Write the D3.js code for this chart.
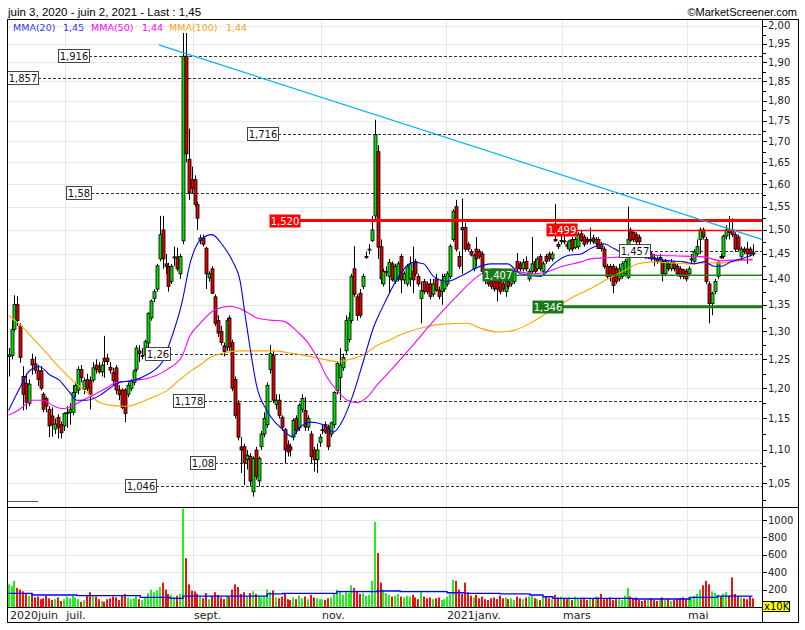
<!DOCTYPE html>
<html><head><meta charset="utf-8">
<script src="https://cdn.jsdelivr.net/npm/d3@7"></script>
<style>body{margin:0;background:#fff}svg{display:block}</style>
</head><body>
<svg id="c" width="805" height="630"></svg>
<script>
// ---------------- DATA ----------------
const opens=[1.255,1.257,1.304,1.35,1.31,1.22,1.208,1.175,1.25,1.242,1.23,1.23,1.19,1.183,1.165,1.154,1.133,1.152,1.14,1.138,
1.158,1.16,1.16,1.193,1.197,1.232,1.198,1.215,1.213,1.214,1.24,1.238,1.228,1.252,1.252,1.236,1.227,1.235,1.197,1.197,1.197,1.19,1.20,
1.21,1.232,1.265,1.257,1.258,1.279,1.325,1.362,1.38,1.44,1.50,1.43,1.425,1.395,1.442,1.444,1.41,1.477,1.916,1.657,1.61,
1.61,1.555,1.478,1.483,1.462,1.402,1.42,1.365,1.32,1.30,1.274,1.272,1.325,1.28,1.215,1.175,1.105,1.105,1.085,1.09,1.037,1.10,
1.053,1.105,1.125,1.14,1.232,1.257,1.173,1.18,1.152,1.132,1.108,1.105,1.12,1.15,1.135,1.165,1.163,1.136,1.125,1.10,1.085,1.112,
1.132,1.14,1.136,1.125,1.14,1.196,1.218,1.235,1.265,1.285,1.32,1.42,1.365,1.372,1.385,1.443,1.458,1.478,1.53,1.675,1.465,
1.39,1.413,1.405,1.43,1.395,1.40,1.445,1.398,1.39,1.40,1.415,1.435,1.405,1.362,1.395,1.39,1.39,1.37,1.40,1.378,1.375,1.38,
1.39,1.405,1.48,1.55,1.445,1.505,1.505,1.47,1.455,1.42,1.46,1.455,1.45,1.41,1.40,1.395,1.395,1.395,1.395,1.39,
1.375,1.395,1.39,1.395,1.435,1.43,1.42,1.435,1.40,1.415,1.435,1.42,1.445,1.415,1.445,1.45,1.44,1.48,1.47,1.478,
1.477,1.47,1.46,1.48,1.463,1.465,1.492,1.485,1.48,1.48,1.483,1.472,1.48,1.47,1.46,1.425,1.425,1.425,1.42,1.40,1.405,1.41,1.403,
1.50,1.495,1.49,1.485,1.45,1.448,1.443,1.45,1.442,1.44,1.443,1.435,1.41,1.43,1.42,1.43,1.425,1.42,1.418,1.415,
1.41,1.44,1.435,1.45,1.48,1.50,1.48,1.39,1.352,1.375,1.405,1.445,1.445,1.487,1.50,1.50,1.49,1.485,1.445,1.46,1.46,
1.46,1.452];
const highs=[1.27,1.32,1.368,1.366,1.315,1.238,1.225,1.215,1.26,1.255,1.24,1.238,1.193,1.186,1.17,1.168,1.15,1.157,1.145,1.16,
1.17,1.175,1.205,1.21,1.238,1.24,1.218,1.225,1.22,1.245,1.25,1.245,1.245,1.292,1.26,1.245,1.235,1.24,1.205,1.20,1.20,1.21,1.215,
1.232,1.275,1.275,1.27,1.285,1.335,1.36,1.38,1.43,1.53,1.53,1.45,1.432,1.43,1.465,1.463,1.45,1.98,1.98,1.73,1.64,
1.62,1.56,1.49,1.49,1.465,1.415,1.425,1.37,1.33,1.31,1.28,1.325,1.33,1.285,1.22,1.18,1.12,1.11,1.10,1.095,1.09,1.105,
1.09,1.13,1.16,1.21,1.275,1.265,1.19,1.19,1.155,1.135,1.115,1.11,1.15,1.155,1.175,1.19,1.185,1.155,1.13,1.105,1.11,1.125,
1.14,1.145,1.14,1.145,1.195,1.245,1.27,1.26,1.33,1.335,1.41,1.466,1.37,1.38,1.41,1.455,1.47,1.53,1.752,1.69,1.48,
1.42,1.425,1.44,1.435,1.43,1.435,1.45,1.415,1.43,1.445,1.465,1.44,1.41,1.395,1.40,1.395,1.40,1.40,1.41,1.385,1.41,1.41,
1.415,1.47,1.545,1.565,1.455,1.568,1.515,1.475,1.46,1.45,1.485,1.46,1.455,1.415,1.405,1.40,1.40,1.40,1.40,1.395,
1.40,1.40,1.415,1.42,1.452,1.435,1.44,1.445,1.42,1.485,1.44,1.445,1.45,1.435,1.45,1.455,1.455,1.556,1.475,1.49,
1.49,1.475,1.48,1.485,1.485,1.495,1.50,1.49,1.485,1.505,1.49,1.485,1.485,1.475,1.465,1.43,1.43,1.43,1.425,1.43,1.435,1.44,1.55,
1.505,1.50,1.495,1.49,1.455,1.455,1.452,1.455,1.45,1.445,1.45,1.44,1.44,1.435,1.44,1.435,1.43,1.425,1.42,1.42,
1.425,1.45,1.46,1.48,1.505,1.505,1.485,1.395,1.375,1.40,1.435,1.45,1.49,1.51,1.53,1.525,1.495,1.49,1.465,1.465,1.475,
1.465,1.47];
const lows=[1.22,1.25,1.30,1.31,1.244,1.163,1.165,1.17,1.223,1.225,1.204,1.196,1.16,1.16,1.12,1.121,1.125,1.118,1.118,1.13,
1.135,1.14,1.155,1.185,1.19,1.21,1.19,1.195,1.165,1.21,1.225,1.225,1.22,1.218,1.24,1.225,1.205,1.19,1.18,1.165,1.144,1.185,1.195,
1.205,1.228,1.245,1.25,1.25,1.27,1.32,1.355,1.375,1.435,1.42,1.41,1.375,1.39,1.425,1.415,1.40,1.47,1.65,1.565,1.58,
1.55,1.50,1.47,1.465,1.38,1.395,1.37,1.31,1.29,1.275,1.255,1.265,1.265,1.195,1.15,1.115,1.065,1.047,1.07,1.045,1.03,1.055,
1.045,1.10,1.12,1.135,1.225,1.175,1.165,1.15,1.13,1.08,1.09,1.09,1.115,1.125,1.13,1.16,1.13,1.13,1.08,1.067,1.065,1.105,
1.125,1.125,1.10,1.12,1.135,1.19,1.18,1.23,1.26,1.28,1.315,1.365,1.32,1.325,1.38,1.44,1.45,1.475,1.52,1.44,1.39,
1.385,1.405,1.372,1.395,1.39,1.395,1.372,1.39,1.385,1.385,1.372,1.405,1.385,1.315,1.37,1.37,1.36,1.365,1.375,1.36,1.35,1.375,
1.385,1.40,1.475,1.455,1.42,1.41,1.455,1.455,1.445,1.415,1.425,1.44,1.41,1.39,1.385,1.38,1.375,1.356,1.37,1.375,
1.365,1.38,1.385,1.39,1.415,1.415,1.415,1.415,1.395,1.41,1.41,1.415,1.415,1.41,1.43,1.435,1.435,1.475,1.46,1.47,
1.47,1.46,1.455,1.455,1.46,1.46,1.475,1.465,1.47,1.47,1.47,1.465,1.46,1.455,1.42,1.40,1.395,1.372,1.39,1.395,1.40,1.405,1.40,
1.475,1.475,1.47,1.47,1.445,1.44,1.44,1.435,1.425,1.43,1.435,1.395,1.405,1.415,1.415,1.415,1.405,1.40,1.40,1.395,
1.405,1.43,1.43,1.445,1.45,1.48,1.39,1.315,1.33,1.37,1.40,1.44,1.44,1.48,1.48,1.485,1.455,1.455,1.44,1.45,1.43,
1.445,1.445];
const closes=[1.258,1.304,1.35,1.32,1.253,1.19,1.176,1.207,1.24,1.231,1.215,1.20,1.165,1.17,1.138,1.14,1.141,1.136,1.127,1.158,
1.16,1.165,1.193,1.205,1.232,1.218,1.213,1.20,1.19,1.235,1.232,1.228,1.24,1.246,1.246,1.231,1.213,1.197,1.189,1.168,1.158,1.205,1.212,
1.23,1.27,1.26,1.257,1.282,1.334,1.357,1.375,1.426,1.49,1.44,1.425,1.385,1.425,1.444,1.42,1.445,1.916,1.67,1.58,1.59,
1.555,1.525,1.483,1.47,1.41,1.41,1.372,1.315,1.297,1.28,1.264,1.32,1.272,1.20,1.155,1.12,1.10,1.08,1.092,1.053,1.087,1.06,
1.087,1.125,1.15,1.205,1.26,1.18,1.18,1.155,1.136,1.10,1.097,1.10,1.147,1.13,1.172,1.183,1.136,1.15,1.09,1.085,1.10,1.12,
1.132,1.128,1.105,1.143,1.193,1.243,1.24,1.253,1.32,1.325,1.405,1.37,1.33,1.33,1.405,1.445,1.46,1.50,1.716,1.464,1.40,
1.415,1.415,1.433,1.398,1.425,1.43,1.398,1.41,1.425,1.43,1.398,1.41,1.39,1.377,1.375,1.375,1.366,1.39,1.378,1.366,1.398,1.405,
1.41,1.466,1.54,1.46,1.425,1.50,1.46,1.46,1.448,1.447,1.44,1.445,1.415,1.40,1.39,1.385,1.38,1.38,1.375,1.38,
1.395,1.385,1.41,1.415,1.42,1.42,1.433,1.42,1.415,1.43,1.415,1.44,1.42,1.43,1.435,1.44,1.45,1.477,1.465,1.478,
1.475,1.465,1.477,1.46,1.48,1.49,1.478,1.47,1.475,1.48,1.475,1.48,1.461,1.461,1.425,1.405,1.405,1.387,1.395,1.42,1.43,1.435,1.48,
1.478,1.48,1.475,1.475,1.448,1.443,1.448,1.44,1.44,1.435,1.443,1.41,1.435,1.42,1.433,1.42,1.41,1.405,1.405,1.40,
1.42,1.44,1.455,1.465,1.50,1.485,1.395,1.352,1.372,1.395,1.433,1.442,1.487,1.50,1.495,1.49,1.46,1.46,1.46,1.455,1.45,
1.45,1.45];
const volumes=[260,240,300,220,200,180,150,130,160,110,120,90,100,130,100,80,90,110,70,90,
120,100,130,110,90,60,80,130,170,140,120,90,70,60,90,100,120,110,80,130,150,110,90,
100,130,90,80,110,160,200,170,190,230,280,200,150,140,120,130,150,1130,560,260,190,
180,150,120,100,160,90,130,170,140,110,90,130,120,200,260,230,150,170,120,160,180,150,
130,110,120,200,170,190,110,100,120,160,90,80,110,90,130,100,120,90,140,110,100,90,
90,80,100,110,150,200,180,140,170,160,250,220,180,150,160,130,140,300,980,620,280,
200,160,140,120,130,150,120,110,130,120,140,110,90,170,120,100,110,90,100,110,80,90,
120,150,310,300,200,150,280,170,130,110,140,100,120,90,80,100,110,90,130,100,
110,90,100,80,120,100,90,110,120,130,100,90,80,110,120,100,90,140,110,120,
100,90,110,80,120,100,90,110,80,90,100,120,110,150,90,100,110,80,90,100,80,130,220,
120,90,110,80,70,80,90,100,80,70,90,110,80,90,70,80,90,100,110,90,
120,100,130,150,200,250,300,260,180,160,140,120,150,170,130,340,150,120,110,100,90,
120,100];
// moving averages: [trading-day index, value]
const ma20=[[0,1.163],[3.8,1.20],[7.2,1.23],[10.7,1.237],[14.1,1.223],[17.6,1.213],[21,1.193],[23.4,1.18],[26.9,1.18],[31.4,1.188],[34.8,1.20],[38.3,1.21],[42.8,1.213],[47.6,1.223],[53.1,1.247],[55.5,1.28],[59.7,1.355],[62.4,1.43],[65.9,1.478],[69.9,1.49],[73.9,1.466],[77.2,1.434],[79.7,1.395],[81.4,1.33],[83.1,1.27],[85.4,1.203],[88.9,1.163],[94.6,1.131],[97.5,1.121],[100.3,1.136],[103.8,1.144],[108.3,1.14],[111.7,1.128],[115.2,1.149],[118.6,1.19],[122.1,1.247],[125.5,1.306],[128.5,1.343],[131.4,1.376],[134.8,1.41],[139.3,1.433],[142.8,1.43],[146.2,1.405],[151,1.395],[155.5,1.405],[161.4,1.423],[165.9,1.43],[171.7,1.43],[176.2,1.41],[183.1,1.405],[187.6,1.43],[192.4,1.447],[196.9,1.45],[200.3,1.461],[204.8,1.471],[208.3,1.461],[213.1,1.447],[217.6,1.444],[222.1,1.44],[227.9,1.436],[232.4,1.434],[235.9,1.43],[239.3,1.434],[242.8,1.425],[245.2,1.425],[248.6,1.434],[252.1,1.44],[256,1.448]];
const ma50=[[0,1.155],[3.8,1.165],[8.3,1.18],[11.7,1.18],[15.2,1.171],[18.6,1.166],[22.1,1.171],[25.5,1.18],[29,1.188],[33.8,1.201],[37.2,1.21],[42.8,1.213],[48.6,1.218],[54.5,1.232],[59.7,1.256],[62.4,1.292],[65.9,1.315],[70.9,1.34],[76.2,1.347],[80.7,1.34],[85.5,1.325],[90,1.321],[94.5,1.319],[99.3,1.30],[102.8,1.281],[106.2,1.253],[109.7,1.218],[113.1,1.196],[116.6,1.18],[120,1.176],[123.4,1.185],[126.9,1.206],[131.4,1.23],[138.3,1.27],[146.2,1.319],[154.5,1.368],[161.4,1.405],[166.9,1.42],[173.8,1.416],[180.7,1.41],[185.5,1.414],[190,1.424],[196.9,1.434],[200.3,1.44],[204.8,1.442],[210.7,1.444],[216.6,1.446],[223.4,1.447],[230.3,1.446],[239.3,1.444],[245.2,1.436],[251,1.438],[256,1.438]];
const ma100=[[0,1.33],[3.8,1.313],[8.3,1.288],[13.1,1.261],[17.6,1.235],[22.1,1.213],[26.9,1.193],[31.4,1.176],[35.9,1.171],[40.7,1.17],[45.2,1.176],[49.7,1.185],[54.5,1.196],[59,1.215],[63.4,1.232],[65.9,1.24],[69.3,1.253],[73.8,1.261],[79.7,1.265],[85.5,1.265],[91,1.265],[96.9,1.261],[102.8,1.256],[108.3,1.25],[113.1,1.246],[117.6,1.25],[122.1,1.258],[126.9,1.275],[131.4,1.285],[134.8,1.294],[141.7,1.306],[148.6,1.313],[157.9,1.315],[162.4,1.306],[168.3,1.299],[173.8,1.302],[180.7,1.319],[187.6,1.343],[193.4,1.362],[200.3,1.381],[207.2,1.403],[213.1,1.42],[216.6,1.43],[222.1,1.434],[227.9,1.432],[233.8,1.43],[239.3,1.432],[245.2,1.432],[251,1.436],[256,1.44]];
const volMa=[[0,157],[8,138],[23.5,130],[45.3,111],[55.6,100],[60,126],[89,150],[94.4,157],[113,176],[126.8,184],[134.7,176],[150.9,164],[157,157],[169.1,150],[179.4,138],[183.9,118],[187.3,100],[214.9,92],[234.5,111],[243.8,126],[256,126]];
const trendLine=[[51.7,1.947],[259.7,1.479]];
const levelValues=[1.916,1.857,1.716,1.58,1.520,1.499,1.457,1.407,1.346,1.26,1.178,1.08,1.046];
const levelTexts=["1,916","1,857","1,716","1,58","1,520","1,499","1,457","1,407","1,346","1,26","1,178","1,08","1,046"];
const levelKinds=["dash","dash","dash","dash","redThick","red","dash","green","greenThick","dash","dash","dash","dash"];
const priceTicks=d3.range(1.05,2.001,0.05);
const volTicks=[200,400,600,800,1000];
const monthKeys=["2020-07","2020-09","2020-11","2021-01","2021-03","2021-05"];
const monthLabels=["juil.","sept.","nov.","2021janv.","mars","mai"];
const firstLabel="2020juin";
const legendNames=["MMA(20)","MMA(50)","MMA(100)"];
const legendValues=["1,45","1,44","1,44"];
const titleText="juin 3, 2020 - juin 2, 2021 - Last : 1,45";
const holidays=["2020-12-25","2021-01-01","2021-04-02","2021-04-05"];

// ---------------- LAYOUT ----------------
const layout={L:7,R:798,AX:762,T:20,PB:507,VB:607,B:622,
  levelLeft:[58,7,247,66,269,546,619,482,532,145,173,190,125]};
const dates=[];
for(let d=new Date(Date.UTC(2020,5,3)); d<=new Date(Date.UTC(2021,5,2)); d.setUTCDate(d.getUTCDate()+1)){
  const wd=d.getUTCDay(); if(wd===0||wd===6) continue;
  const s=d.toISOString().slice(0,10); if(holidays.includes(s)) continue; dates.push(s);
}
const n=closes.length;
const svg=d3.select("#c");
const x=d3.scaleLinear().domain([0,n-1]).range([8.6,752.5]);
const y=d3.scaleLog().domain([1.05,2]).range([483,25.8]);
const yv=d3.scaleLinear().domain([0,1000]).range([607,520]);
const FONT="DejaVu Sans, Verdana, sans-serif";
const fmt=v=>d3.format(".2f")(v).replace(".",",");

const defs=svg.append("defs");
defs.append("clipPath").attr("id","cp").append("rect").attr("x",layout.L).attr("y",layout.T).attr("width",layout.AX-layout.L).attr("height",layout.PB-layout.T);
defs.append("clipPath").attr("id","cv").append("rect").attr("x",layout.L).attr("y",layout.PB).attr("width",layout.AX-layout.L).attr("height",layout.VB-layout.PB);

// gridlines
const g=svg.append("g");
g.selectAll(".hg").data(priceTicks).join("line").attr("x1",layout.L).attr("x2",layout.AX)
 .attr("y1",d=>Math.round(y(d))+0.5).attr("y2",d=>Math.round(y(d))+0.5).attr("stroke","#e8e8e8");
g.selectAll(".vg").data(volTicks).join("line").attr("x1",layout.L).attr("x2",layout.AX)
 .attr("y1",d=>Math.round(yv(d))+0.5).attr("y2",d=>Math.round(yv(d))+0.5).attr("stroke","#e8e8e8");
const monthIdx=monthKeys.map(k=>dates.findIndex(d=>d.startsWith(k)));
g.selectAll(".mg").data(monthIdx).join("line").attr("x1",d=>Math.round(x(d)-1.45)+0.5).attr("x2",d=>Math.round(x(d)-1.45)+0.5)
 .attr("y1",layout.T).attr("y2",layout.VB).attr("stroke","#e8e8e8");

// dashed level lines (behind candles)
const levels=levelValues.map((v,i)=>({v,t:levelTexts[i],k:levelKinds[i],lx:layout.levelLeft[i]}));
const pc=svg.append("g").attr("clip-path","url(#cp)");
function boxW(t){return t.length>4?31:25;}
pc.selectAll(".dl").data(levels.filter(d=>d.k==="dash")).join("line")
 .attr("x1",d=>d.lx+boxW(d.t)).attr("x2",layout.AX).attr("y1",d=>Math.round(y(d.v))+0.5).attr("y2",d=>Math.round(y(d.v))+0.5)
 .attr("stroke","#333").attr("stroke-dasharray","3,2");

// candles
const cd=d3.range(n).map(i=>({i,o:opens[i],h:highs[i],l:lows[i],c:closes[i]}));
pc.selectAll(".wk").data(cd).join("line").attr("x1",d=>Math.round(x(d.i))+0.5).attr("x2",d=>Math.round(x(d.i))+0.5)
 .attr("y1",d=>y(d.h)).attr("y2",d=>y(d.l)).attr("stroke","#000").attr("stroke-width",1);
pc.selectAll(".bd").data(cd).join("rect")
 .attr("x",d=>Math.round(x(d.i))-1).attr("width",3)
 .attr("y",d=>y(Math.max(d.o,d.c))).attr("height",d=>Math.max(1,Math.abs(y(d.o)-y(d.c))))
 .attr("fill",d=>d.c>=d.o?"#00e000":"#e00000").attr("stroke","#000").attr("stroke-width",0.8);

// moving averages
const line=d3.line().x(d=>x(d[0])).y(d=>y(d[1])).curve(d3.curveMonotoneX);
pc.append("path").attr("d",line(ma100)).attr("fill","none").attr("stroke","#ffa500").attr("stroke-width",1.1);
pc.append("path").attr("d",line(ma50)).attr("fill","none").attr("stroke","#ff00ff").attr("stroke-width",1.1);
pc.append("path").attr("d",line(ma20)).attr("fill","none").attr("stroke","#0000ff").attr("stroke-width",1.1);
// trend line
svg.append("path").attr("d",d3.line().x(d=>x(d[0])).y(d=>y(d[1]))(trendLine)).attr("stroke","#00b4f0").attr("stroke-width",1.2).attr("fill","none");

// coloured levels
const kindStyle={redThick:["#ff0000",3],red:["#ff0000",1.5],green:["#1a8a1a",1.5],greenThick:["#138013",3]};
pc.selectAll(".cl").data(levels.filter(d=>d.k!=="dash")).join("line")
 .attr("x1",d=>d.lx+boxW(d.t)).attr("x2",layout.AX).attr("y1",d=>y(d.v)).attr("y2",d=>y(d.v))
 .attr("stroke",d=>kindStyle[d.k][0]).attr("stroke-width",d=>kindStyle[d.k][1]);
// level labels
const lb=svg.selectAll(".lb").data(levels).join("g").attr("transform",d=>`translate(${d.lx},${Math.round(y(d.v))})`);
lb.append("rect").attr("x",0.5).attr("y",-6.5).attr("width",d=>boxW(d.t)).attr("height",13)
 .attr("fill",d=>d.k==="dash"?"#fff":(d.k.startsWith("red")?"#ff0000":"#177a17"))
 .attr("stroke",d=>d.k==="dash"?"#444":"none");
lb.append("text").attr("x",d=>boxW(d.t)/2+0.5).attr("y",4).attr("text-anchor","middle")
 .attr("font-family",FONT).attr("font-size",10).attr("fill",d=>d.k==="dash"?"#111":"#fff").text(d=>d.t);

// volume
const vc=svg.append("g").attr("clip-path","url(#cv)");
vc.selectAll(".vb").data(cd).join("rect").attr("x",d=>Math.round(x(d.i))-1).attr("width",2)
 .attr("y",d=>yv(volumes[d.i])).attr("height",d=>yv(0)-yv(volumes[d.i]))
 .attr("fill",d=>d.c>=d.o?"#22ee22":"#ee1111");
vc.append("path").attr("d",d3.line().x(d=>x(d[0])).y(d=>yv(d[1])).curve(d3.curveStepAfter)(volMa))
 .attr("fill","none").attr("stroke","#0000ff").attr("stroke-width",1.3);

// frame
svg.append("rect").attr("x",layout.L+0.5).attr("y",layout.T-0.5).attr("width",layout.R-layout.L).attr("height",layout.B-layout.T+1).attr("fill","none").attr("stroke","#000");
svg.append("line").attr("x1",layout.L).attr("x2",layout.R).attr("y1",layout.PB+0.5).attr("y2",layout.PB+0.5).attr("stroke","#000");
svg.append("line").attr("x1",layout.L).attr("x2",layout.AX).attr("y1",layout.VB+0.5).attr("y2",layout.VB+0.5).attr("stroke","#000");
svg.append("line").attr("x1",layout.AX+0.5).attr("x2",layout.AX+0.5).attr("y1",layout.T).attr("y2",layout.B).attr("stroke","#000");
svg.append("line").attr("x1",8).attr("x2",38).attr("y1",501.5).attr("y2",501.5).attr("stroke","#555");

// right price axis
const ax=svg.append("g");
const minor=d3.range(1.025,2.001,0.05);
ax.selectAll(".mt").data(minor).join("line").attr("x1",layout.AX).attr("x2",layout.AX+4)
 .attr("y1",d=>Math.round(y(d))+0.5).attr("y2",d=>Math.round(y(d))+0.5).attr("stroke","#000");
ax.selectAll(".Mt").data(priceTicks).join("line").attr("x1",layout.AX).attr("x2",layout.AX+5)
 .attr("y1",d=>Math.round(y(d))+0.5).attr("y2",d=>Math.round(y(d))+0.5).attr("stroke","#000");
ax.selectAll(".pl").data(priceTicks).join("text").attr("x",layout.AX+6).attr("y",d=>y(d)+3.5)
 .attr("font-family",FONT).attr("font-size",10).attr("fill","#222").text(d=>fmt(d));
ax.selectAll(".vt").data(volTicks).join("line").attr("x1",layout.AX).attr("x2",layout.AX+5)
 .attr("y1",d=>Math.round(yv(d))+0.5).attr("y2",d=>Math.round(yv(d))+0.5).attr("stroke","#000");
ax.selectAll(".vl").data(volTicks).join("text").attr("x",layout.AX+6).attr("y",d=>yv(d)+3.5)
 .attr("font-family",FONT).attr("font-size",10).attr("fill","#222").text(d=>d);
svg.append("rect").attr("x",762.5).attr("y",601.5).attr("width",27).attr("height",10).attr("fill","#ffff00").attr("stroke","#000");
svg.append("text").attr("x",764).attr("y",610).attr("font-family",FONT).attr("font-size",10).attr("fill","#000").text("x10K");

// x axis labels
svg.append("text").attr("x",10).attr("y",619).attr("font-family",FONT).attr("font-size",11).attr("fill","#222").text(firstLabel);
svg.selectAll(".ml").data(monthIdx).join("text").attr("x",d=>x(d)-0.5).attr("y",619)
 .attr("font-family",FONT).attr("font-size",11).attr("fill","#222").text((d,i)=>monthLabels[i]);

// title & copyright
svg.append("text").attr("x",8).attr("y",16).attr("font-family","Liberation Sans, Arial, sans-serif").attr("font-size",11.5).attr("fill","#000").text(titleText);
svg.append("text").attr("x",797).attr("y",16).attr("text-anchor","end").attr("font-family","Liberation Sans, Arial, sans-serif").attr("font-size",11).attr("fill","#000").text("\u00a9MarketScreener.com");

// legend
const legColors=["#3333ff","#ff00ff","#ffa020"];
const legX=[13,91,169], legVX=[63,142,226];
legendNames.forEach((t,i)=>{
  svg.append("text").attr("x",legX[i]).attr("y",31).attr("font-family",FONT).attr("font-size",9.5).attr("fill",legColors[i]).text(t);
  svg.append("text").attr("x",legVX[i]).attr("y",31).attr("font-family",FONT).attr("font-size",9.5).attr("fill",legColors[i]).text(legendValues[i]);
});
</script>
</body></html>
